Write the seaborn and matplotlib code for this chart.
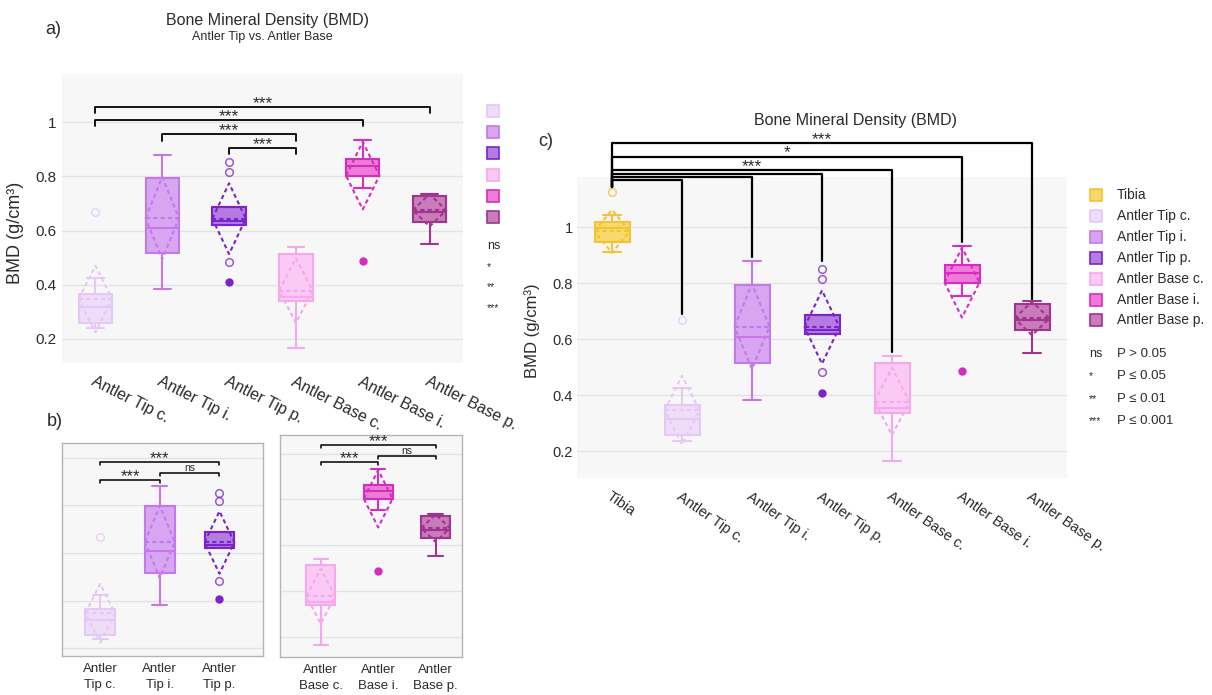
import numpy as np
import matplotlib
matplotlib.use("Agg")
import matplotlib.pyplot as plt
import seaborn as sns
from matplotlib.patches import Rectangle

# --- Data ---
groups = ["Tibia", "Antler Tip c.", "Antler Tip i.", "Antler Tip p.",
          "Antler Base c.", "Antler Base i.", "Antler Base p."]
q1 = [0.948, 0.257, 0.517, 0.620, 0.338, 0.801, 0.632]
medians = [0.998, 0.317, 0.609, 0.634, 0.355, 0.838, 0.668]
q3 = [1.020, 0.366, 0.795, 0.686, 0.514, 0.865, 0.727]
whis_lo = [0.911, 0.238, 0.382, 0.620, 0.164, 0.756, 0.552]
whis_hi = [1.045, 0.425, 0.881, 0.686, 0.539, 0.934, 0.736]
means = [0.986, 0.347, 0.646, 0.644, 0.378, 0.803, 0.675]
sds = [0.077, 0.123, 0.152, 0.131, 0.120, 0.125, 0.060]
suspected = [[1.125], [0.668], [], [0.852, 0.816, 0.482], [], [], []]
outliers = [[], [], [], [0.409], [], [0.488], []]

edge_colors = ["#F3C235", "#E4C8F5", "#C479E8", "#7A24C9", "#F5A8EB", "#D52DBD", "#A0358F"]
fill_colors = ["#F8D96E", "#EEDDF9", "#D8A5F3", "#B47BE3", "#FBCAF4", "#EE7BD9", "#C97BBA"]

# significance brackets
a_pairs = [(0, 5), (0, 4), (1, 3), (2, 3)]
a_labels = ["***", "***", "***", "***"]
a_levels = [1.056, 1.009, 0.956, 0.906]

bl_pairs = [(0, 2), (1, 2), (0, 1)]
bl_labels = ["***", "ns", "***"]
bl_levels = [0.982, 0.935, 0.905]

br_pairs = [(0, 2), (1, 2), (0, 1)]
br_labels = ["***", "ns", "***"]
br_levels = [1.039, 0.988, 0.962]

c_targets = [1, 2, 3, 4, 5, 6]
c_labels = ["", "", "", "***", "*", "***"]
c_levels = [1.170, 1.180, 1.192, 1.204, 1.250, 1.301]
c_ends = [0.690, 0.894, 0.879, 0.555, 0.948, 0.745]

sig_keys = ["ns", "*", "**", "***"]
sig_text = ["P > 0.05", "P \u2264 0.05", "P \u2264 0.01", "P \u2264 0.001"]

# --- Style ---
sns.set_theme(style="whitegrid")
plt.rcParams["font.family"] = ["Liberation Sans", "DejaVu Sans"]
TXT = "#2b2b2b"
BG = "#F7F7F7"
GRID = "#E3E3E3"

W, H = 1212, 695
fig = plt.figure(figsize=(W / 100, H / 100), dpi=100)


def rect(l, t, r, b):
    return [l / W, 1 - b / H, (r - l) / W, (b - t) / H]


def style_axes(ax, frame=False):
    ax.set_facecolor(BG)
    ax.grid(False)
    ax.yaxis.grid(True, color=GRID, lw=1)
    ax.set_axisbelow(True)
    for s in ax.spines.values():
        s.set_visible(frame)
        s.set_color("#B5B5B5")
        s.set_linewidth(1)
    ax.tick_params(axis="both", length=0, colors=TXT)
    ax.set_yticks([0.2, 0.4, 0.6, 0.8, 1.0])


def draw_boxes(ax, idx, lw=1.5):
    pos = np.arange(len(idx))
    stats = [dict(med=medians[i], q1=q1[i], q3=q3[i], whislo=whis_lo[i],
                  whishi=whis_hi[i], fliers=[], label=groups[i]) for i in idx]
    bp = ax.bxp(stats, positions=pos, widths=0.5, capwidths=0.25, patch_artist=True,
                showfliers=False, manage_ticks=False)
    for k, i in enumerate(idx):
        ec, fc = edge_colors[i], fill_colors[i]
        bp["boxes"][k].set(facecolor=fc, edgecolor=ec, linewidth=lw)
        bp["medians"][k].set(color=ec, linewidth=lw)
        for ln in bp["whiskers"][2 * k:2 * k + 2] + bp["caps"][2 * k:2 * k + 2]:
            ln.set(color=ec, linewidth=lw)
        x, m, s = pos[k], means[i], sds[i]
        ax.plot([x - 0.25, x, x + 0.25, x, x - 0.25], [m, m + s, m, m - s, m],
                color=ec, lw=lw, ls=(0, (2, 1.5)), zorder=3)
        ax.plot([x - 0.25, x + 0.25], [m, m], color=ec, lw=lw, ls=(0, (2, 1.5)), zorder=3)
        if suspected[i]:
            ax.plot([x] * len(suspected[i]), suspected[i], "o", mfc="none", mec=ec,
                    ms=5.5, mew=1.1, alpha=0.75, zorder=3)
        if outliers[i]:
            ax.plot([x] * len(outliers[i]), outliers[i], "o", mfc=ec, mec=ec, ms=5, zorder=3)


def sig_label(ax, text, x, y, fs):
    if text == "ns":
        off, size = 1.8, 7.5
    elif text == "*":
        off, size = 0.5, fs
    else:
        off, size = -0.8, fs
    ax.annotate(text, (x, y), xytext=(0, off), textcoords="offset points",
                ha="center", va="baseline", fontsize=size, color=TXT,
                annotation_clip=False)


def draw_brackets(ax, pairs, labels, levels, drop, lw=1.3, fs=12.5):
    for (a, b), lab, lv in zip(pairs, labels, levels):
        ax.plot([a, a, b, b], [lv - drop, lv, lv, lv - drop], color="black", lw=lw,
                clip_on=False, zorder=4)
        sig_label(ax, lab, (a + b) / 2, lv, fs)


# --- Panel a ---
ax_a = fig.add_axes(rect(62, 74, 463, 363))
style_axes(ax_a)
draw_boxes(ax_a, [1, 2, 3, 4, 5, 6])
draw_brackets(ax_a, a_pairs, a_labels, a_levels, 0.023)
ax_a.set_xlim(-0.5, 5.5)
ax_a.set_ylim(0.11, 1.179)
ax_a.set_yticklabels(["0.2", "0.4", "0.6", "0.8", "1"], fontsize=11)
ax_a.set_xticks(range(6))
ax_a.set_xticklabels(groups[1:], rotation=-27, ha="left", va="top",
                     rotation_mode="anchor", fontsize=11.5)
ax_a.tick_params(axis="x", pad=8)
ax_a.tick_params(axis="y", pad=4)
ax_a.set_ylabel("BMD (g/cm\u00b3)", fontsize=13, color=TXT)
ax_a.yaxis.set_label_coords(-0.096, 0.45)

# --- Panel b ---
ax_bl = fig.add_axes(rect(62, 443, 263, 656))
style_axes(ax_bl, frame=True)
draw_boxes(ax_bl, [1, 2, 3])
draw_brackets(ax_bl, bl_pairs, bl_labels, bl_levels, 0.013, lw=1.1, fs=12)
ax_bl.set_xlim(-0.64, 2.73)
ax_bl.set_ylim(0.168, 1.061)

ax_br = fig.add_axes(rect(280, 435, 462, 657))
style_axes(ax_br, frame=True)
draw_boxes(ax_br, [4, 5, 6])
draw_brackets(ax_br, br_pairs, br_labels, br_levels, 0.013, lw=1.1, fs=12)
ax_br.set_xlim(-0.71, 2.46)
ax_br.set_ylim(0.113, 1.081)

for ax, idx in [(ax_bl, [1, 2, 3]), (ax_br, [4, 5, 6])]:
    ax.set_yticklabels([])
    ax.set_xticks(range(3))
    ax.set_xticklabels([groups[i].replace("Antler ", "Antler\n") for i in idx],
                       fontsize=9.5, linespacing=1.4)
    ax.tick_params(axis="x", pad=5)

# --- Panel c ---
ax_c = fig.add_axes(rect(577, 177, 1067, 478))
style_axes(ax_c)
draw_boxes(ax_c, list(range(7)))
ax_c.set_xlim(-0.5, 6.5)
ax_c.set_ylim(0.105, 1.18)
for j, lab, lv, end in zip(c_targets, c_labels, c_levels, c_ends):
    ax_c.plot([0, 0, j, j], [1.146, lv, lv, end], color="black", lw=1.6,
              clip_on=False, zorder=4, solid_joinstyle="round")
    if lab:
        sig_label(ax_c, lab, j / 2, lv, 12.5)
ax_c.set_yticklabels(["0.2", "0.4", "0.6", "0.8", "1"], fontsize=10.5)
ax_c.set_xticks(range(7))
ax_c.set_xticklabels(groups, rotation=-35, ha="left", va="top",
                     rotation_mode="anchor", fontsize=10.5)
ax_c.tick_params(axis="x", pad=8)
ax_c.tick_params(axis="y", pad=3)
ax_c.set_ylabel("BMD (g/cm\u00b3)", fontsize=12, color=TXT)
ax_c.yaxis.set_label_coords(-0.076, 0.49)

# --- Overlay: titles, panel letters and legends ---
ov = fig.add_axes([0, 0, 1, 1], zorder=10)
ov.set_xlim(0, W)
ov.set_ylim(H, 0)
ov.axis("off")

ov.text(267, 20, "Bone Mineral Density (BMD)", ha="center", va="center", fontsize=11.5, color=TXT)
ov.text(262, 37, "Antler Tip vs. Antler Base", ha="center", va="center", fontsize=9, color=TXT)
ov.text(855, 120, "Bone Mineral Density (BMD)", ha="center", va="center", fontsize=11.5, color=TXT)
ov.text(53, 29, "a)", ha="center", va="center", fontsize=13, color=TXT)
ov.text(55, 422, "b)", ha="center", va="center", fontsize=13, color=TXT)
ov.text(546, 141, "c)", ha="center", va="center", fontsize=13, color=TXT)

# panel a legend (squares without labels)
for k, i in enumerate(range(1, 7)):
    yc = 111 + k * 21.2
    ov.add_patch(Rectangle((487, yc - 6), 12, 12, facecolor=fill_colors[i],
                           edgecolor=edge_colors[i], lw=1.2))
for k, key in enumerate(sig_keys):
    ov.text(487, 246 + k * 20.7, key, ha="left", va="center",
            fontsize=9 if key == "ns" else 7.5, color=TXT)

# panel c legend
for k, name in enumerate(groups):
    yc = 195 + k * 20.9
    ov.add_patch(Rectangle((1090, yc - 6), 12, 12, facecolor=fill_colors[k],
                           edgecolor=edge_colors[k], lw=1.2))
    ov.text(1117, yc, name, ha="left", va="center", fontsize=10, color=TXT)
for k, (key, txt) in enumerate(zip(sig_keys, sig_text)):
    yc = 354 + k * 22.3
    ov.text(1089, yc, key, ha="left", va="center",
            fontsize=9 if key == "ns" else 7.5, color=TXT)
    ov.text(1117, yc, txt, ha="left", va="center", fontsize=9.5, color=TXT)

fig.savefig("out.png", dpi=100, facecolor="white")
